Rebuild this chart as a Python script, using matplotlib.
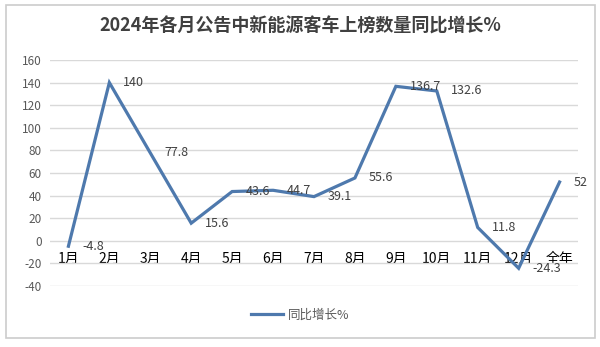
import matplotlib
matplotlib.use("Agg")
import matplotlib.pyplot as plt
from matplotlib.patches import Rectangle

plt.rcParams['font.family'] = ['Noto Sans CJK SC', 'DejaVu Sans']

categories = ['1月', '2月', '3月', '4月', '5月', '6月', '7月', '8月', '9月', '10月', '11月', '12月', '全年']
values = [-4.8, 140, 77.8, 15.6, 43.6, 44.7, 39.1, 55.6, 136.7, 132.6, 11.8, -24.3, 52]
series_name = '同比增长%'
title = '2024年各月公告中新能源客车上榜数量同比增长%'
yticks = [-40, -20, 0, 20, 40, 60, 80, 100, 120, 140, 160]

line_color = '#4E79AD'
text_color = '#595959'

fig = plt.figure(figsize=(6.0, 3.47), dpi=100)
fig.patch.set_facecolor('white')
fig.add_artist(Rectangle((6/600, 1 - 338/347), 589/600, 333/347, transform=fig.transFigure,
                         fill=False, edgecolor='#cccccc', linewidth=1.2))

ax = fig.add_axes([50/600, 1 - 286/347, 528/600, 226/347])
x = list(range(len(categories)))
ax.plot(x, values, color=line_color, linewidth=2.3, solid_joinstyle='miter', label=series_name)

for xi, v in zip(x, values):
    ax.annotate(f'{v:g}', (xi, v), xytext=(10, 0), textcoords='offset points',
                ha='left', va='center', fontsize=9, color='#404040')

ax.set_xlim(-0.45, len(categories) - 0.55)
ax.set_ylim(-40, 160)
ax.set_yticks(yticks)
ax.set_yticklabels([str(t) for t in yticks], fontsize=8.5, color=text_color)
ax.grid(axis='y', color='#d9d9d9', linewidth=1)
ax.set_axisbelow(True)
ax.set_xticks(x)
ax.set_xticklabels(categories, fontsize=7.5, color=text_color)
ax.spines['bottom'].set_position(('data', 0))
for s in ax.spines.values():
    s.set_visible(False)
ax.tick_params(axis='x', length=0, pad=8)
ax.tick_params(axis='y', length=0, pad=6)

fig.text(0.5, 1 - 26/347, title, ha='center', va='center', fontsize=13, fontweight='bold', color='#404040')

leg = fig.legend(loc='center', bbox_to_anchor=(0.5, 1 - 315/347), frameon=False, fontsize=9,
                 handlelength=2.6, handletextpad=0.4)
for t in leg.get_texts():
    t.set_color(text_color)

fig.savefig('out.png', dpi=100, facecolor='white')
